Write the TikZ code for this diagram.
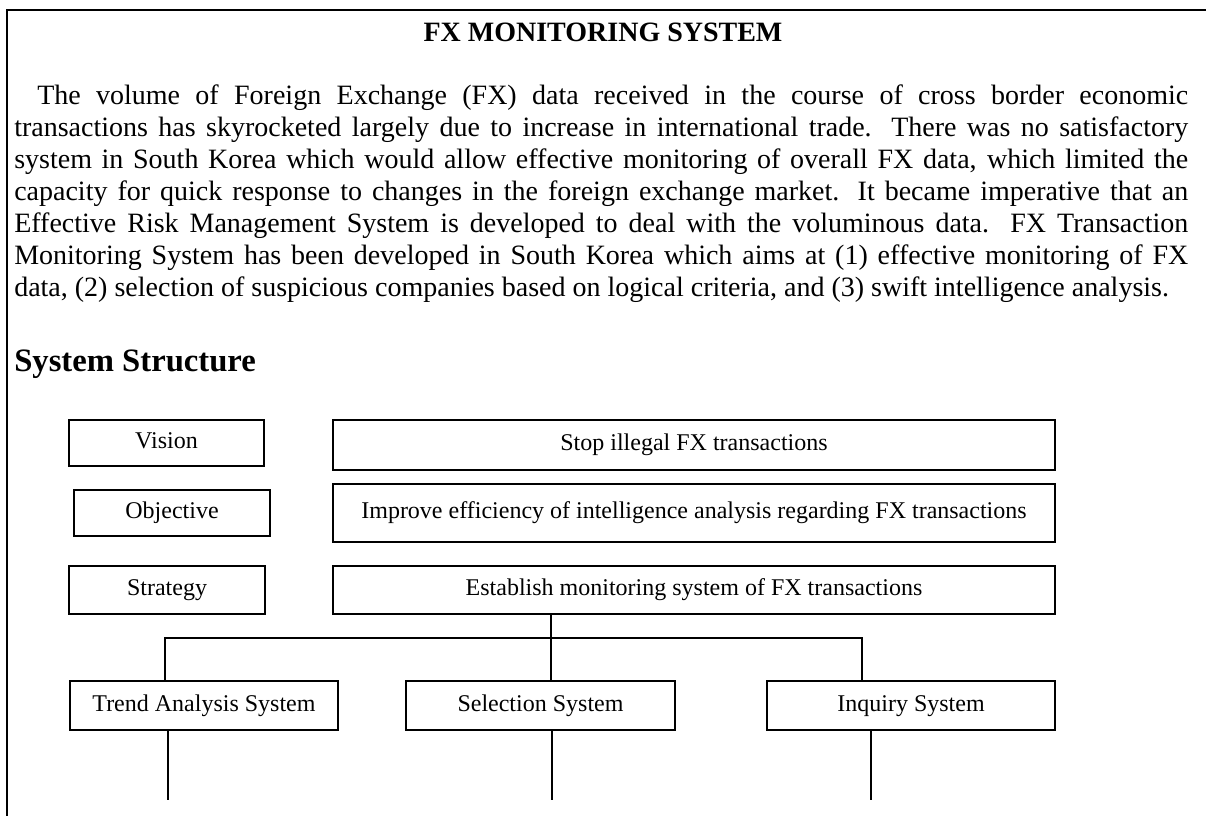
\documentclass[tikz,border=0pt]{standalone}
\usepackage{fontspec}
\setmainfont{Liberation Serif}
\begin{document}
\begin{tikzpicture}[x=0.75pt,y=-0.75pt,
  box/.style={draw, line width=1.1pt, inner sep=0pt, text height=12.5pt, text depth=4pt, font=\fontsize{18}{21}\selectfont},
  conn/.style={line width=1.3pt},
  frameline/.style={line width=1.8pt},
  para/.style={anchor=base west, inner sep=0pt, font=\fontsize{21}{24}\selectfont}]
\useasboundingbox (0,0) rectangle (1206,816);
% frame
\coordinate (fbl) at (7,816);
\coordinate (ftl) at (7,10);
\coordinate (ftr) at (1206,10);
\draw[frameline] (fbl) -- (ftl) -- (ftr);
% title
\node[anchor=base, inner sep=0pt, font=\fontsize{21}{24}\selectfont\bfseries] (title) at (603,42) {FX MONITORING SYSTEM};
% paragraph
\node[para] (p1) at (37,105) {\makebox[863.25pt][s]{The volume of Foreign Exchange (FX) data received in the course of cross border economic}};
\node[para] (p2) at (14,137) {\makebox[880.5pt][s]{transactions has skyrocketed largely due to increase in international trade. There was no satisfactory}};
\node[para] (p3) at (14,169) {\makebox[880.5pt][s]{system in South Korea which would allow effective monitoring of overall FX data, which limited the}};
\node[para] (p4) at (14,201) {\makebox[880.5pt][s]{capacity for quick response to changes in the foreign exchange market. It became imperative that an}};
\node[para] (p5) at (14,233) {\makebox[880.5pt][s]{Effective Risk Management System is developed to deal with the voluminous data. FX Transaction}};
\node[para] (p6) at (14,265) {\makebox[880.5pt][s]{Monitoring System has been developed in South Korea which aims at (1) effective monitoring of FX}};
\node[para] (p7) at (14,297) {data, (2) selection of suspicious companies based on logical criteria, and (3) swift intelligence analysis.};
% heading
\node[anchor=base west, inner sep=0pt, font=\fontsize{24.5}{28}\selectfont\bfseries] (head) at (14,372) {System Structure};
% rows
\node[box, minimum width=146.25pt, minimum height=34.5pt] (vision) at (166.5,443) {Vision};
\node[box, minimum width=541.5pt, minimum height=37.5pt] (stop) at (694,445) {Stop illegal FX transactions};
\node[box, minimum width=147pt, minimum height=34.5pt] (obj) at (172,513) {Objective};
\node[box, minimum width=541.5pt, minimum height=43.5pt] (impr) at (694,513) {Improve efficiency of intelligence analysis regarding FX transactions};
\node[box, minimum width=147pt, minimum height=36pt] (strat) at (167,590) {Strategy};
\node[box, minimum width=541.5pt, minimum height=36pt] (est) at (694,590) {Establish monitoring system of FX transactions};
\node[box, minimum width=201pt, minimum height=36.75pt] (trend) at (204,705.5) {Trend Analysis System};
\node[box, minimum width=201.75pt, minimum height=36.75pt] (sel) at (540.5,705.5) {Selection System};
\node[box, minimum width=216pt, minimum height=36.75pt] (inq) at (911,705.5) {Inquiry System};
% connectors
\coordinate (bus) at (551,638);
\coordinate (busl) at (165,638);
\coordinate (busr) at (862,638);
\draw[conn] (bus |- est.south) -- (bus);
\draw[conn] (busl |- trend.north) -- (busl) -- (busr) -- (busr |- inq.north);
\draw[conn] (bus) -- (bus |- sel.north);
\coordinate (e1) at (168,800);
\coordinate (e2) at (552,800);
\coordinate (e3) at (871,800);
\draw[conn] (e1 |- trend.south) -- (e1);
\draw[conn] (e2 |- sel.south) -- (e2);
\draw[conn] (e3 |- inq.south) -- (e3);
\end{tikzpicture}
\end{document}
